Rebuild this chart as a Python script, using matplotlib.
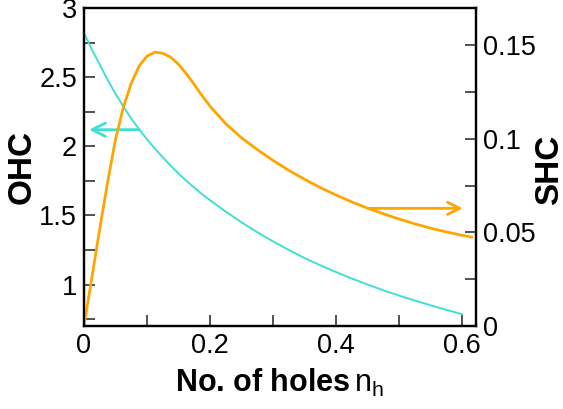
import matplotlib
matplotlib.use('Agg')
import matplotlib.pyplot as plt

plt.rcParams['font.family'] = ['Liberation Sans', 'DejaVu Sans']
plt.rcParams['mathtext.fontset'] = 'custom'
plt.rcParams['mathtext.rm'] = 'Liberation Sans'
plt.rcParams['mathtext.bf'] = 'Liberation Sans:bold'

# OHC (left axis)
ohc_x = [0, 0.0125, 0.025, 0.0375, 0.05, 0.0625, 0.075, 0.0875, 0.1, 0.1125,
         0.125, 0.1375, 0.15, 0.1625, 0.175, 0.1875, 0.2, 0.225, 0.25, 0.275,
         0.3, 0.325, 0.35, 0.375, 0.4, 0.425, 0.45, 0.475, 0.5, 0.525, 0.55,
         0.575, 0.6]
ohc_y = [2.820, 2.700, 2.590, 2.480, 2.380, 2.287, 2.200, 2.122, 2.050, 1.983,
         1.920, 1.860, 1.803, 1.750, 1.700, 1.653, 1.610, 1.527, 1.450, 1.378,
         1.312, 1.250, 1.192, 1.139, 1.090, 1.043, 1.000, 0.958, 0.920, 0.884,
         0.850, 0.817, 0.785]

# SHC (right axis)
shc_x = [0, 0.0125, 0.025, 0.0375, 0.05, 0.0625, 0.075, 0.0875, 0.1, 0.1125,
         0.125, 0.1375, 0.15, 0.1625, 0.175, 0.1875, 0.2, 0.225, 0.25, 0.275,
         0.3, 0.325, 0.35, 0.375, 0.4, 0.425, 0.45, 0.475, 0.5, 0.525, 0.55,
         0.575, 0.6, 0.615]
shc_y = [0.0, 0.026, 0.052, 0.077, 0.0998, 0.1170, 0.1298, 0.1390, 0.1443, 0.1464,
         0.1458, 0.1437, 0.1399, 0.1348, 0.1290, 0.1231, 0.1175, 0.1081, 0.1006, 0.0943,
         0.0885, 0.0832, 0.0784, 0.0740, 0.0700, 0.0663, 0.0630, 0.0600, 0.0572, 0.0546,
         0.0523, 0.0503, 0.0485, 0.0475]

x_ticks = [0, 0.2, 0.4, 0.6]
x_labels = ['0', '0.2', '0.4', '0.6']
left_ticks = [1, 1.5, 2, 2.5, 3]
left_labels = ['1', '1.5', '2', '2.5', '3']
right_ticks = [0, 0.05, 0.1, 0.15]
right_labels = ['0', '0.05', '0.1', '0.15']

cyan = '#40E0D0'
orange = '#FFA500'

fig = plt.figure(figsize=(5.63, 4.09), dpi=100)
ax = fig.add_axes([0.1492, 0.2029, 0.8455 - 0.1492, 0.9804 - 0.2029])
ax2 = ax.twinx()

ax.plot(ohc_x, ohc_y, color=cyan, lw=1.4)
ax2.plot(shc_x, shc_y, color=orange, lw=2.0)

ax.set_xlim(0, 0.622)
ax.set_ylim(0.7, 3)
ax2.set_ylim(0, 0.17)

ax.set_xticks(x_ticks)
ax.set_xticklabels(x_labels)
ax.set_xticks([0.1, 0.3, 0.5], minor=True)
ax.set_yticks(left_ticks)
ax.set_yticklabels(left_labels)
ax.set_yticks([0.75, 1.25, 1.75, 2.25, 2.75], minor=True)
ax2.set_yticks(right_ticks)
ax2.set_yticklabels(right_labels)
ax2.set_yticks([0.025, 0.075, 0.125], minor=True)

for a in (ax, ax2):
    a.tick_params(which='both', direction='in', length=8, width=1.2,
                  labelsize=19.5, pad=5, color='#333333')
    for s in a.spines.values():
        s.set_linewidth(1.6)
ax.tick_params(top=False, right=False, which='both')
ax2.tick_params(left=False, which='both')

ax.set_ylabel('OHC', fontsize=24, fontweight='bold')
ax.yaxis.set_label_coords(-0.118, 0.5)
ax2.set_ylabel('SHC', fontsize=24, fontweight='bold', rotation=90)
ax2.yaxis.set_label_coords(1.148, 0.49)
ax.set_xlabel(r'No. of holes$\,\mathrm{n_h}$', fontsize=22, fontweight='bold', labelpad=6)

ax.annotate('', xy=(0.008, 2.12), xytext=(0.088, 2.12),
            arrowprops=dict(arrowstyle='->', color=cyan, lw=2, mutation_scale=24,
                            shrinkA=0, shrinkB=0))
ax2.annotate('', xy=(0.601, 0.0629), xytext=(0.451, 0.0629),
             arrowprops=dict(arrowstyle='->', color=orange, lw=2, mutation_scale=22,
                             shrinkA=0, shrinkB=0))

fig.savefig('out.png', dpi=100)
